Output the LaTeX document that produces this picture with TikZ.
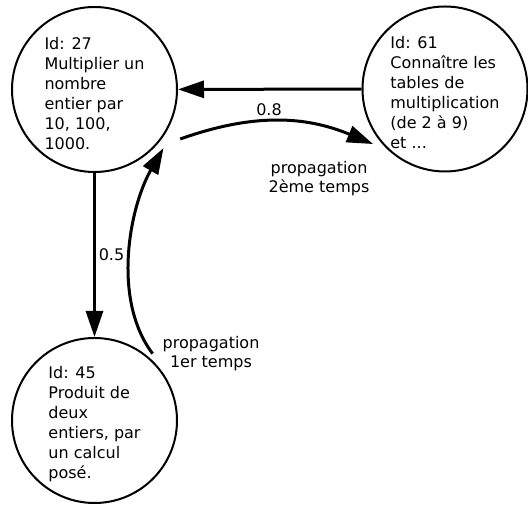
\documentclass[tikz,border=0pt]{standalone}
\usepackage{fontspec}
\setmainfont{DejaVu Sans}
\usetikzlibrary{arrows.meta,calc}
\newcommand{\firststrut}{\rule{0pt}{20pt}}
\begin{document}
\begin{tikzpicture}[x=1pt,y=1pt,
  state/.style={circle, draw, line width=2pt, minimum size=165pt, inner sep=0pt, align=left, font=\fontsize{16}{20}\selectfont},
  conn/.style={line width=3pt, -{Triangle[length=26pt,width=17pt]}},
  lbl/.style={font=\fontsize{16}{19}\selectfont, align=center, inner sep=0pt}]
\useasboundingbox (0,0) rectangle (528,505);
\node[state] (n27) at (94.5,415.5) {\firststrut Id: 27\\Multiplier un\\nombre\\entier par\\10, 100,\\1000.};
\node[state] (n61) at (445,416) {\firststrut Id: 61\\Connaître les\\tables de\\multiplication\\(de 2 à 9)\\et ...};
\node[state] (n45) at (94.5,84.5) {\firststrut Id: 45\\Produit de\\deux\\entiers, par\\un calcul\\posé.};
\coordinate (s1) at ([shift={(-30:99pt)}]n27.center);
\coordinate (e1) at ([shift={(217.4:90.6pt)}]n61.center);
\coordinate (s2) at ([shift={(49:88.6pt)}]n45.center);
\coordinate (e2) at ([shift={(-40.3:90.5pt)}]n27.center);
\draw[conn] (n61) -- (n27);
\draw[conn] (n27) -- (n45);
\draw[conn] (s1) to[bend left=21] (e1);
\draw[conn] (s2) .. controls +(-41,54) and +(-34,-59) .. (e2);
\node[lbl] (l05) at (111.5,250) {0.5};
\node[lbl] (l08) at (269,395) {0.8};
\node[lbl] (p1) at (211,151) {propagation\\1er temps};
\node[lbl] (p2) at (319,326) {propagation\\2ème temps};
\end{tikzpicture}
\end{document}
